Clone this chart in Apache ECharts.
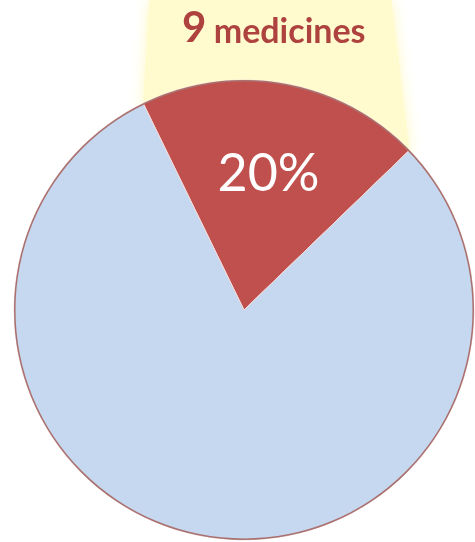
<!DOCTYPE html>
<html>
<head>
<meta charset="utf-8">
<script src="https://cdn.jsdelivr.net/npm/echarts@6/dist/echarts.min.js"></script>
<style>html,body{margin:0;padding:0;background:#fff}#c{width:475px;height:542px}</style>
</head>
<body>
<div id="c"></div>
<script>
// Data
var categories = ['medicines', 'other'];
var values = [9, 36];
var unitLabel = 'medicines';

var chart = echarts.init(document.getElementById('c'), null, {renderer: 'canvas'});

var CX = 244, CY = 310, R = 230, START = 116;
var total = values.reduce(function (a, b) { return a + b; }, 0);
var a0 = START * Math.PI / 180;
var a1 = (START - 360 * values[0] / total) * Math.PI / 180;
var p0 = [CX + R * Math.cos(a0), CY - R * Math.sin(a0)];
var p1 = [CX + R * Math.cos(a1), CY - R * Math.sin(a1)];
// callout band rising from the highlighted slice to the top
var band = [
  [p0[0] + 6, 0], [p1[0] - 18, 0], [p1[0], p1[1]], [CX, CY], [p0[0], p0[1]]
];

chart.setOption({
  animation: false,
  graphic: [
    {
      type: 'polygon', z: -10, silent: true,
      shape: {points: band},
      style: {fill: '#FFFBCF', shadowBlur: 14, shadowColor: '#FFF8C0'}
    },
    {
      type: 'text', z: 10,
      left: 182, top: 7,
      style: {
        text: '{a|' + values[0] + '} {b|' + unitLabel + '}',
        rich: {
          a: {fontFamily: 'Lato', fontWeight: 'bold', fontSize: 42, fill: '#AE423E', verticalAlign: 'bottom'},
          b: {fontFamily: 'Lato', fontWeight: 'bold', fontSize: 34, fill: '#AE423E', verticalAlign: 'bottom', padding: [0, 0, 0, 4]}
        }
      }
    }
  ],
  series: [
    {
      type: 'pie',
      center: [CX, CY],
      radius: [0, R],
      startAngle: START,
      clockwise: true,
      silent: true,
      z: 2,
      label: {
        show: true,
        position: 'inside',
        formatter: function (p) { return p.dataIndex === 0 ? Math.round(p.percent) + '%' : ''; },
        color: '#ffffff',
        fontFamily: 'Lato',
        fontSize: 52
      },
      labelLine: {show: false},
      labelLayout: function (p) { return p.dataIndex === 0 ? {dx: 4, dy: -20} : {}; },
      itemStyle: {borderColor: '#F3D9D8', borderWidth: 1},
      data: categories.map(function (c, i) {
        return {name: c, value: values[i], itemStyle: {color: i === 0 ? '#C0504D' : '#C6D8EF'}};
      })
    },
    {
      type: 'pie',
      center: [CX, CY],
      radius: [R - 1.5, R],
      silent: true,
      z: 3,
      label: {show: false},
      labelLine: {show: false},
      itemStyle: {color: '#A9706E', borderWidth: 0},
      data: [{name: 'outline', value: total}]
    }
  ]
});
</script>
</body>
</html>
